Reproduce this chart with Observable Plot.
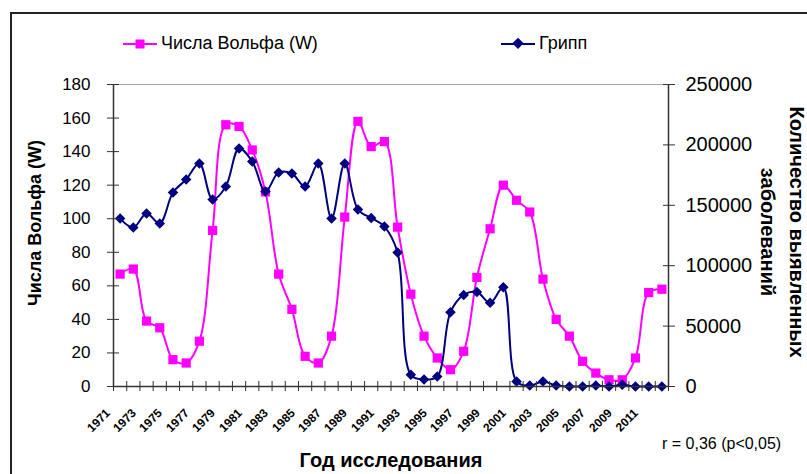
<!DOCTYPE html>
<html><head><meta charset="utf-8">
<script src="https://cdn.jsdelivr.net/npm/d3@7"></script>
<script src="https://cdn.jsdelivr.net/npm/@observablehq/plot@0.6"></script>
<style>
body{margin:0;background:#fff;}
#wrap{position:relative;width:807px;height:474px;overflow:hidden;font-family:"Liberation Sans",Arial,sans-serif;background:#fff;}
#frame{position:absolute;left:10px;top:12px;width:850px;height:520px;border:2px solid #222;box-sizing:border-box}
#chart{position:absolute;left:0;top:0}
.lab{position:absolute;white-space:nowrap;color:#000;line-height:1}
.leg{position:absolute;display:flex;align-items:center;font-size:18px;white-space:nowrap}
.xl{position:absolute;white-space:nowrap;font-weight:bold;font-size:12px;line-height:1;transform:translate(-100%,-50%) rotate(-45deg);transform-origin:right center;color:#000}
</style></head><body>
<div id="wrap">
  <div id="frame"></div>
  <div id="chart"></div>
  <div class="leg" style="left:122px;top:33px;">
    <svg width="36" height="20"><line x1="1" y1="10" x2="35" y2="10" stroke="#FF00FF" stroke-width="2"/><rect x="13.5" y="5.5" width="9" height="9" fill="#FF00FF"/></svg>
    <span id="leg1" style="margin-left:3px"></span>
  </div>
  <div class="leg" style="left:500px;top:33px;">
    <svg width="36" height="20"><line x1="1" y1="10" x2="35" y2="10" stroke="#000080" stroke-width="2"/><rect x="13.5" y="5.5" width="8" height="8" fill="#000080" transform="rotate(45 18 10)"/></svg>
    <span id="leg2" style="margin-left:3px"></span>
  </div>
  <div class="lab" id="ytitle" style="left:35px;top:223px;transform:translate(-50%,-50%) rotate(-90deg);font-weight:bold;font-size:18px;"></div>
  <div class="lab" id="y2title" style="left:782px;top:232px;transform:translate(-50%,-50%) rotate(90deg);font-weight:bold;font-size:20px;text-align:center;line-height:29px;"></div>
  <div class="lab" id="xtitle" style="left:391px;top:460px;transform:translate(-50%,-50%);font-weight:bold;font-size:20px;"></div>
  <div class="lab" id="note" style="left:662px;top:436px;font-size:16px;"></div>
</div>
<script>
const years = [1971,1972,1973,1974,1975,1976,1977,1978,1979,1980,1981,1982,1983,1984,1985,1986,1987,1988,1989,1990,1991,1992,1993,1994,1995,1996,1997,1998,1999,2000,2001,2002,2003,2004,2005,2006,2007,2008,2009,2010,2011,2012];
const wolf = [67,70,39,35,16,14,27,93,156,155,141,116,67,46,18,14,30,101,158,143,146,95,55,30,17,10,21,65,94,120,111,104,64,40,30,15,8,4,4,17,56,58];
const flu = [139000,131600,143200,135000,160600,171400,184600,154800,165600,197000,186300,161400,177200,176300,165600,184600,139000,184600,146500,139500,132400,110900,9700,5800,8300,61500,75800,78300,69300,82100,4100,800,4100,800,0,0,800,0,1400,0,0,0];
const labelYears = [1971,1973,1975,1977,1979,1981,1983,1985,1987,1989,1991,1993,1995,1997,1999,2001,2003,2005,2007,2009,2011];
const leftTicks = [0,20,40,60,80,100,120,140,160,180];
const rightTicks = [0,50000,100000,150000,200000,250000];
const seriesNames = ["Числа Вольфа (W)", "Грипп"];
const yTitle = "Числа Вольфа (W)";
const y2Title = ["Количество выявленных", "заболеваний"];
const xTitle = "Год исследования";
const note = "r = 0,36 (p<0,05)";

const PINK = "#FF00FF", NAVY = "#000080", AX = "#333";
const K = 180 / 250000;
const wolfData = years.map((yr, i) => ({yr, v: wolf[i]}));
const fluData = years.map((yr, i) => ({yr, v: flu[i] * K}));
const bounds = [...years.map(y => y - 0.5), years[years.length - 1] + 0.5];
const x0 = bounds[0], x1 = bounds[bounds.length - 1];

const chart = Plot.plot({
  width: 807, height: 474,
  marginLeft: 113, marginRight: 139, marginTop: 84, marginBottom: 88,
  x: {type: "linear", domain: [x0, x1]},
  y: {domain: [0, 180]},
  style: {fontFamily: "'Liberation Sans', Arial, sans-serif", background: "transparent", color: "#000"},
  marks: [
    Plot.frame({stroke: "#a6a6a6"}),
    Plot.line(wolfData, {x: "yr", y: "v", stroke: PINK, strokeWidth: 2, curve: "catmull-rom"}),
    Plot.dot(wolfData, {x: "yr", y: "v", symbol: "square", r: 5.2, fill: PINK, stroke: null}),
    Plot.line(fluData, {x: "yr", y: "v", stroke: NAVY, strokeWidth: 2, curve: "catmull-rom"}),
    Plot.dot(fluData, {x: "yr", y: "v", symbol: "square", rotate: 45, r: 4.2, fill: NAVY, stroke: null}),
    Plot.ruleX([x0, x1], {stroke: AX, strokeWidth: 1.5}),
    Plot.ruleY([0], {stroke: AX, strokeWidth: 1.5}),
    Plot.axisY({anchor: "left", ticks: leftTicks, tickSize: 12, dx: 6, tickFormat: () => "", label: null, stroke: AX}),
    Plot.axisY({anchor: "right", ticks: rightTicks.map(d => d * K), tickSize: 12, dx: -6, tickFormat: () => "", label: null, stroke: AX}),
    Plot.axisX({anchor: "bottom", ticks: bounds, tickSize: 10, dy: -5, tickFormat: () => "", label: null, stroke: AX}),
    Plot.text(leftTicks, {y: d => d, text: d => String(d), frameAnchor: "left", textAnchor: "end", dx: -23, fontSize: 17, fill: "#000"}),
    Plot.text(rightTicks, {y: d => d * K, text: d => String(d), frameAnchor: "right", textAnchor: "start", dx: 17, fontSize: 20, fill: "#000"})
  ]
});
document.getElementById("chart").appendChild(chart);

// rotated year labels placed with the chart's own x scale
const xs = chart.scale("x");
const wrap = document.getElementById("wrap");
const baseY = 386 + 25;
for (const yr of labelYears) {
  const d = document.createElement("div");
  d.className = "xl";
  d.textContent = String(yr);
  d.style.left = (xs.apply(yr) - 12) + "px";
  d.style.top = baseY + "px";
  wrap.appendChild(d);
}

document.getElementById("leg1").textContent = seriesNames[0];
document.getElementById("leg2").textContent = seriesNames[1];
document.getElementById("ytitle").textContent = yTitle;
document.getElementById("y2title").innerHTML = y2Title[0] + "<br>" + y2Title[1];
document.getElementById("xtitle").textContent = xTitle;
document.getElementById("note").textContent = note;
</script>
</body></html>
